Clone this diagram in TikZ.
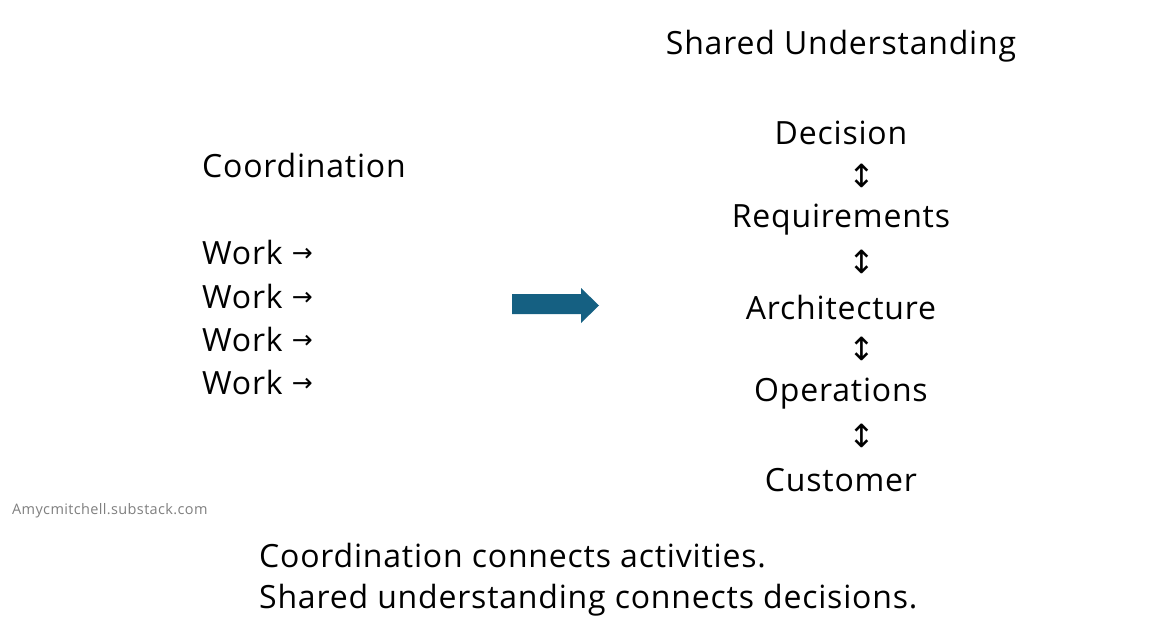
\documentclass[tikz,border=0pt]{standalone}
\usepackage{fontspec}
\setmainfont[LetterSpace=2.5]{Open Sans}
\newfontfamily\symfont{DejaVu Sans}
\definecolor{arrowblue}{HTML}{156082}
\definecolor{credit}{HTML}{7F7F7F}
\begin{document}
\begin{tikzpicture}[x=1pt,y=-1pt,
  big/.style={font=\fontsize{32}{36}\selectfont, inner sep=0pt, text=black},
  lefttext/.style={big, anchor=west},
  ctr/.style={big, anchor=center},
  updown/.style={font=\symfont\fontsize{32}{36}\selectfont, inner sep=0pt},
  small/.style={font=\fontsize{14.5}{17}\selectfont, text=credit, inner sep=0pt, anchor=west}]
\useasboundingbox (0,0) rectangle (1153,637);
\newcommand{\rarr}{\raisebox{3pt}{\symfont\fontsize{25}{29}\selectfont →}}
\node[ctr] (title) at (841,46) {Shared Understanding};
\node[ctr] (dec) at (841,133) {Decision};
\node[updown] (a1) at (862,176) {↕};
\node[ctr] (req) at (841,220) {Requirements};
\node[updown] (a2) at (862,262) {↕};
\node[ctr] (arc) at (841,307) {Architecture};
\node[updown] (a3) at (862,349) {↕};
\node[ctr] (ops) at (841,394) {Operations};
\node[updown] (a4) at (862,436) {↕};
\node[ctr] (cus) at (841,480) {Customer};
\node[lefttext] (coord) at (202,165) {Coordination};
\node[lefttext] (w1) at (202,252) {Work \rarr};
\node[lefttext] (w2) at (202,296) {Work \rarr};
\node[lefttext] (w3) at (202,339) {Work \rarr};
\node[lefttext] (w4) at (202,382) {Work \rarr};
\fill[arrowblue] (512,294) -- (581,294) -- (581,288) -- (599,305.5) -- (581,323) -- (581,314) -- (512,314) -- cycle;
\node[small] (credit) at (12,511) {Amycmitchell.substack.com};
\node[lefttext] (b1) at (259,556) {Coordination connects activities.};
\node[lefttext] (b2) at (259,600) {Shared understanding connects decisions.};
\end{tikzpicture}
\end{document}
